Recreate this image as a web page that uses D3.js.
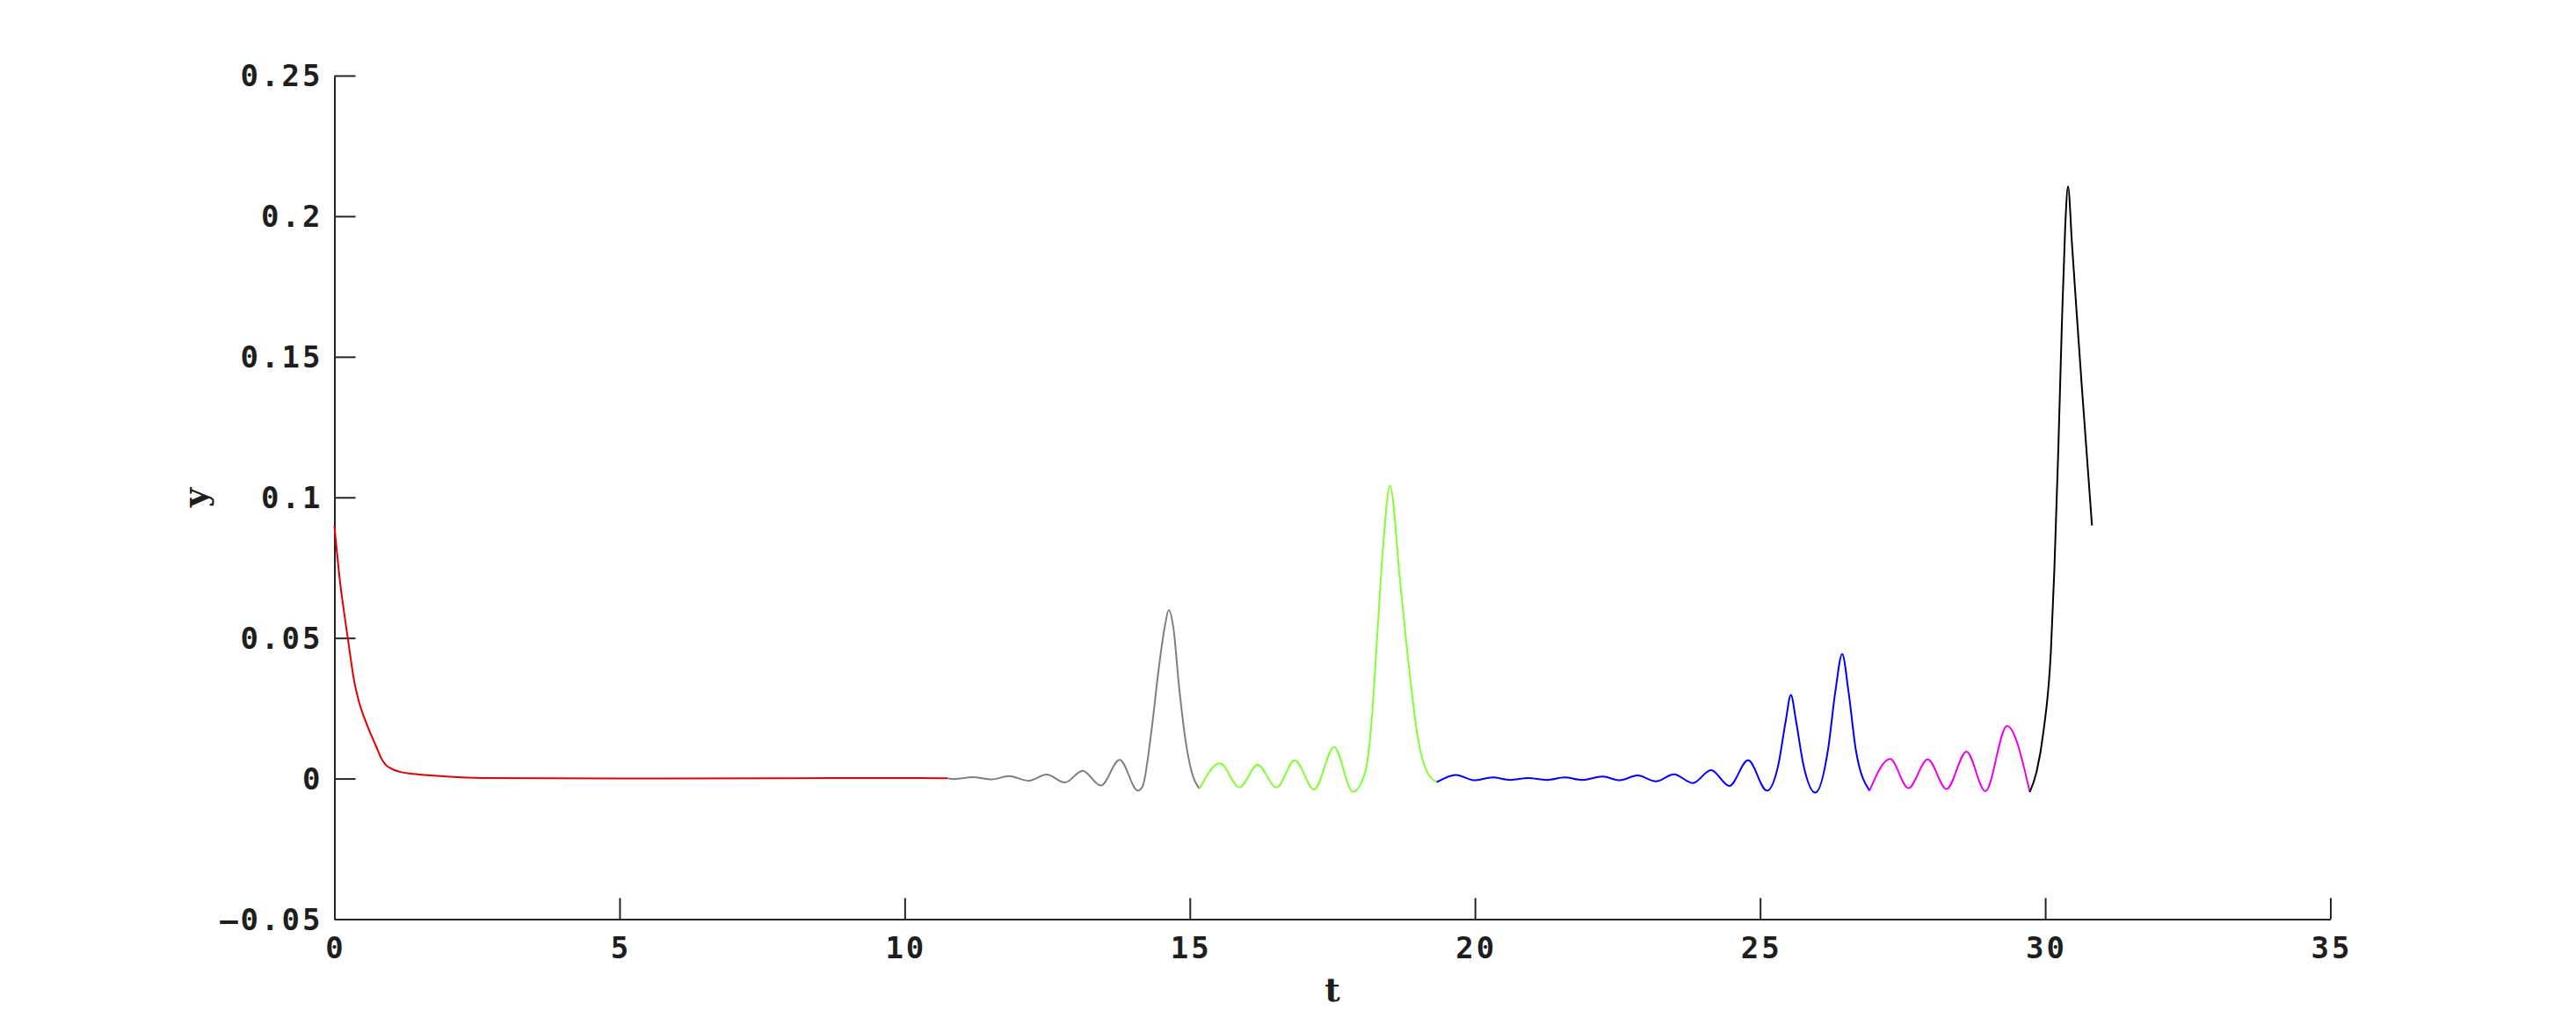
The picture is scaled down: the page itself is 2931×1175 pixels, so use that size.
<!DOCTYPE html>
<html>
<head>
<meta charset="utf-8">
<script src="https://cdn.jsdelivr.net/npm/d3@7"></script>
<style>
  html, body { margin: 0; padding: 0; background: #fff; }
  .tick-label { font-family: "DejaVu Sans Mono", monospace; font-weight: bold; font-size: 34px; letter-spacing: 3px; fill: #1e1e1e; }
  .axis-label { font-family: "DejaVu Serif", serif; font-weight: bold; font-size: 38px; fill: #1e1e1e; }
</style>
</head>
<body>
<svg id="chart" width="2931" height="1175"></svg>
<script>
// values, one array pair per coloured piece of the curve
var redT = [0, 0.095, 0.162, 0.234, 0.352, 0.41, 0.583, 0.737, 0.814, 0.89, 0.994, 1.15, 1.456, 1.96, 2.6, 5, 8, 10, 10.75];
var redY = [0.0899, 0.0706, 0.0602, 0.05, 0.0341, 0.0289, 0.0185, 0.0112, 0.0075, 0.0051, 0.0036, 0.0024, 0.0015, 0.00075, 0.0002, 0.0, 0.0001, 0.0002, 0.0001];

var grayT = [10.75, 10.87, 11.19, 11.53, 11.83, 12.17, 12.49, 12.81, 13.12, 13.44, 13.77, 14.09, 14.17, 14.33, 14.45, 14.56, 14.63, 14.71, 14.81, 14.92, 15.04, 15.17];
var grayY = [0.0001, -0.0002, 0.0005, -0.0003, 0.0009, -0.0008, 0.0014, -0.0014, 0.0028, -0.0025, 0.0067, -0.0043, -0.0029, 0.0174, 0.0383, 0.0539, 0.0599, 0.0539, 0.033, 0.0143, 0.0018, -0.0036];

var greenT = [15.17, 15.53, 15.87, 16.19, 16.52, 16.84, 17.18, 17.53, 17.86, 18.07, 18.18, 18.28, 18.38, 18.51, 18.69, 18.85, 19.0, 19.15, 19.33];
var greenY = [-0.0036, 0.0054, -0.0031, 0.0049, -0.0032, 0.0065, -0.0039, 0.0112, -0.0047, 0.0018, 0.0185, 0.0487, 0.08, 0.1041, 0.0695, 0.0383, 0.0143, 0.0028, -0.0013];

var blueT = [19.33, 19.67, 19.98, 20.31, 20.62, 20.93, 21.26, 21.57, 21.88, 22.24, 22.54, 22.85, 23.17, 23.49, 23.82, 24.14, 24.46, 24.79, 25.12, 25.32, 25.45, 25.54, 25.63, 25.76, 25.97, 26.19, 26.32, 26.44, 26.55, 26.68, 26.92];
var blueY = [-0.0013, 0.0013, -0.0006, 0.0004, -0.0005, 0.0002, -0.0005, 0.0004, -0.0005, 0.0007, -0.0006, 0.0011, -0.001, 0.0015, -0.0016, 0.003, -0.0026, 0.0065, -0.0043, 0.0049, 0.0205, 0.0297, 0.0205, 0.0049, -0.005, 0.0101, 0.031, 0.0443, 0.031, 0.0101, -0.0043];

var magentaT = [26.92, 27.28, 27.6, 27.94, 28.27, 28.62, 28.95, 29.33, 29.73];
var magentaY = [-0.0043, 0.007, -0.0034, 0.0068, -0.0037, 0.0096, -0.0045, 0.0187, -0.0048];

var blackT = [29.73, 29.85, 29.97, 30.10, 30.16, 30.23, 30.29, 30.35, 30.40, 30.47, 30.55, 30.64, 30.73, 30.82];
var blackY = [-0.0048, 0.0025, 0.0168, 0.0455, 0.0742, 0.1172, 0.1602, 0.196, 0.2106, 0.190, 0.166, 0.140, 0.115, 0.090];

var xTicks = [0, 5, 10, 15, 20, 25, 30, 35];
var yTicks = [-0.05, 0, 0.05, 0.1, 0.15, 0.2, 0.25];
var yTickLabels = ['\u20130.05', '0', '0.05', '0.1', '0.15', '0.2', '0.25'];

var svg = d3.select('#chart');

var margin = { left: 380.5, right: 2651.5, top: 86, bottom: 1045.5 };
var xScale = d3.scaleLinear().domain([0, 35]).range([margin.left, margin.right]);
var yScale = d3.scaleLinear().domain([-0.05, 0.25]).range([margin.bottom, margin.top]);

var axisColor = '#262626';
var tickLen = 24;

// x axis, ticks pointing into the plot
var xAxis = d3.axisBottom(xScale)
	.tickValues(xTicks)
	.tickSizeInner(-tickLen)
	.tickSizeOuter(0)
	.tickFormat('');
var gx = svg.append('g')
	.attr('transform', `translate(0, ${margin.bottom})`)
	.call(xAxis);

var yAxis = d3.axisLeft(yScale)
	.tickValues(yTicks)
	.tickSizeInner(-tickLen)
	.tickSizeOuter(0)
	.tickFormat('');
var gy = svg.append('g')
	.attr('transform', `translate(${margin.left}, 0)`)
	.call(yAxis);

[gx, gy].forEach(function(g){
	g.select('.domain').attr('stroke', axisColor).attr('stroke-width', 2);
	g.selectAll('.tick line').attr('stroke', axisColor).attr('stroke-width', 2);
});

// tick labels
svg.append('g').selectAll('text')
	.data(xTicks)
	.enter().append('text')
	.attr('class', 'tick-label')
	.attr('x', function(d){ return xScale(d) + 1.5; })
	.attr('y', 1090)
	.attr('text-anchor', 'middle')
	.text(function(d){ return d; });

svg.append('g').selectAll('text')
	.data(yTicks)
	.enter().append('text')
	.attr('class', 'tick-label')
	.attr('x', margin.left - 13)
	.attr('y', function(d){ return yScale(d); })
	.attr('dy', '0.36em')
	.attr('text-anchor', 'end')
	.text(function(d, i){ return yTickLabels[i]; });

// axis titles
svg.append('text')
	.attr('class', 'axis-label')
	.attr('x', 1516)
	.attr('y', 1139)
	.attr('text-anchor', 'middle')
	.text('t');

svg.append('text')
	.attr('class', 'axis-label')
	.attr('transform', 'translate(235, 566) rotate(-90)')
	.attr('text-anchor', 'middle')
	.text('y');

// the curve, drawn piece by piece
var pieces = [
	{ t: redT, y: redY, color: '#e00000' },
	{ t: grayT, y: grayY, color: '#7f7f7f' },
	{ t: greenT, y: greenY, color: '#80ff33' },
	{ t: blueT, y: blueY, color: '#0000ff' },
	{ t: magentaT, y: magentaY, color: '#ee00ee' },
	{ t: blackT, y: blackY, color: '#000000' }
];

var line = d3.line()
	.x(function(d){ return xScale(d[0]); })
	.y(function(d){ return yScale(d[1]); })
	.curve(d3.curveMonotoneX);

pieces.forEach(function(p){
	var pts = p.t.map(function(t, i){ return [t, p.y[i]]; });
	svg.append('path')
		.attr('d', line(pts))
		.attr('fill', 'none')
		.attr('stroke', p.color)
		.attr('stroke-width', 2);
});
</script>
</body>
</html>
